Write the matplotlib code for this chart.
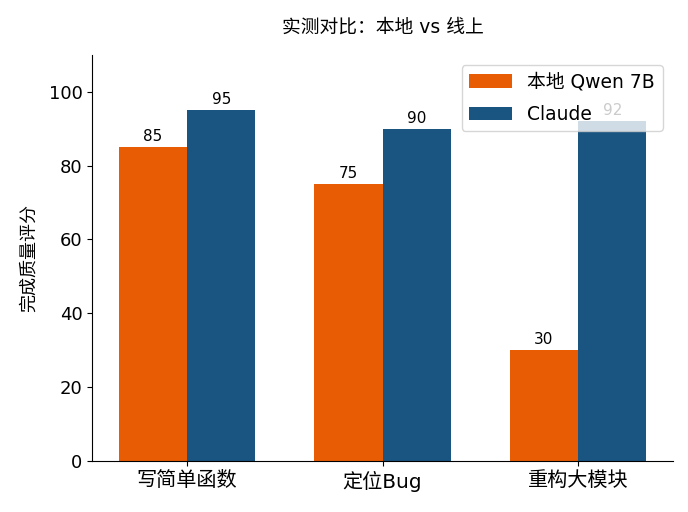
import numpy as np
import matplotlib
matplotlib.use("Agg")
import matplotlib.pyplot as plt

plt.rcParams['font.family'] = ['DejaVu Sans', 'Noto Sans CJK SC']

categories = ['写简单函数', '定位Bug', '重构大模块']
local_scores = [85, 75, 30]
claude_scores = [95, 90, 92]

x = np.arange(len(categories))
width = 0.35

fig, ax = plt.subplots(figsize=(6.88, 5.12), dpi=100)
fig.subplots_adjust(left=0.134, right=0.978, top=0.893, bottom=0.0996)

b1 = ax.bar(x - width / 2, local_scores, width, label='本地 Qwen 7B', color='#E85D04')
b2 = ax.bar(x + width / 2, claude_scores, width, label='Claude', color='#1A5480')
ax.bar_label(b1, padding=2, fontsize=11)
ax.bar_label(b2, padding=2, fontsize=11)

ax.set_title('实测对比：本地 vs 线上', fontsize=13.5, pad=16)
ax.set_ylabel('完成质量评分', fontsize=13, labelpad=8)
ax.set_xticks(x)
ax.set_xticklabels(categories, fontsize=14.5)
ax.tick_params(axis='y', labelsize=13)
ax.set_ylim(0, 110)
ax.spines['top'].set_visible(False)
ax.spines['right'].set_visible(False)
ax.legend(fontsize=13.5, loc='upper right', borderaxespad=0.55,
          handlelength=2.3, labelspacing=0.7)

fig.savefig('out.png', dpi=100)
